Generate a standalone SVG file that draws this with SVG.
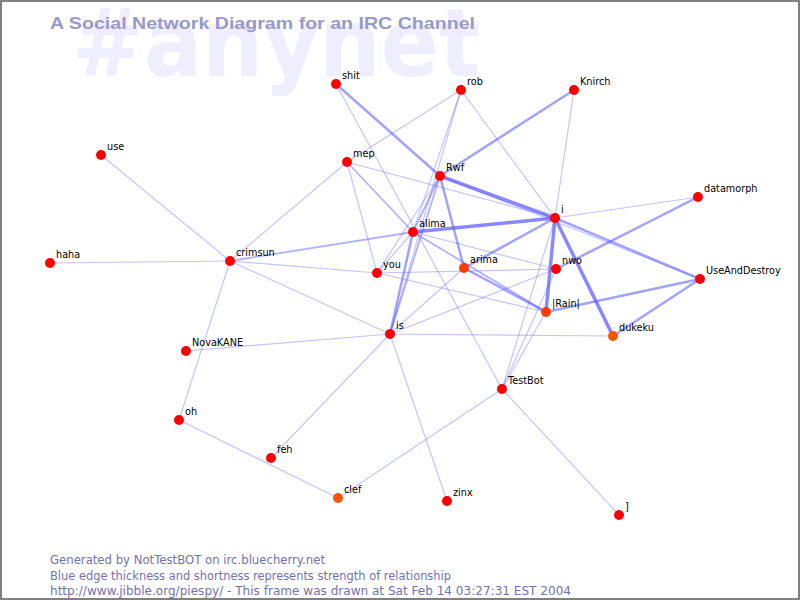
<svg xmlns="http://www.w3.org/2000/svg" width="800" height="600" viewBox="0 0 800 600">
<style>
.bg{font-family:"DejaVu Sans",sans-serif;font-weight:bold;font-size:95px;fill:#eeeeff}
.title{font-family:"Liberation Sans",sans-serif;font-weight:bold;font-size:17px;fill:#9999cc}
.foot{font-family:"DejaVu Sans",sans-serif;font-size:11.5px;fill:#7272b0}
.lbl{font-family:"DejaVu Sans",sans-serif;font-size:9.7px;fill:#000}
.n{fill:#ff0000}
.o{fill:#ff3c00}
.o2{fill:#ff5500}
#edges line{stroke:#5555ff;stroke-linecap:round}
#edges .t1{stroke-width:1.2;stroke-opacity:0.35}
#edges .t2{stroke-width:1.8;stroke-opacity:0.45}
#edges .t3{stroke-width:2.5;stroke-opacity:0.55}
#edges .t4{stroke-width:3.5;stroke-opacity:0.7}
</style>
<rect x="0" y="0" width="800" height="600" fill="#ffffff"/>
<text class="bg" x="72" y="76" textLength="408" lengthAdjust="spacingAndGlyphs">#anynet</text>
<text class="title" x="50" y="29" textLength="425" lengthAdjust="spacingAndGlyphs">A Social Network Diagram for an IRC Channel</text>
<g id="edges">
<line class="t1" x1="336" y1="84" x2="502" y2="389"/>
<line class="t1" x1="461" y1="90" x2="347" y2="162"/>
<line class="t1" x1="461" y1="90" x2="555" y2="218"/>
<line class="t1" x1="461" y1="90" x2="413" y2="232"/>
<line class="t1" x1="461" y1="90" x2="390" y2="334"/>
<line class="t1" x1="574" y1="90" x2="555" y2="218"/>
<line class="t1" x1="101" y1="155" x2="230" y2="261"/>
<line class="t1" x1="50" y1="263" x2="230" y2="261"/>
<line class="t1" x1="230" y1="261" x2="347" y2="162"/>
<line class="t1" x1="230" y1="261" x2="377" y2="273"/>
<line class="t1" x1="230" y1="261" x2="390" y2="334"/>
<line class="t1" x1="230" y1="261" x2="179" y2="420"/>
<line class="t1" x1="186" y1="351" x2="390" y2="334"/>
<line class="t1" x1="179" y1="420" x2="338" y2="498"/>
<line class="t1" x1="271" y1="458" x2="390" y2="334"/>
<line class="t1" x1="338" y1="498" x2="502" y2="389"/>
<line class="t1" x1="447" y1="501" x2="390" y2="334"/>
<line class="t1" x1="502" y1="389" x2="619" y2="515"/>
<line class="t1" x1="347" y1="162" x2="377" y2="273"/>
<line class="t1" x1="347" y1="162" x2="555" y2="218"/>
<line class="t1" x1="440" y1="176" x2="377" y2="273"/>
<line class="t1" x1="413" y1="232" x2="556" y2="269"/>
<line class="t1" x1="413" y1="232" x2="377" y2="273"/>
<line class="t1" x1="555" y1="218" x2="698" y2="197"/>
<line class="t1" x1="555" y1="218" x2="502" y2="389"/>
<line class="t1" x1="556" y1="269" x2="377" y2="273"/>
<line class="t1" x1="556" y1="269" x2="390" y2="334"/>
<line class="t1" x1="556" y1="269" x2="502" y2="389"/>
<line class="t1" x1="546" y1="312" x2="377" y2="273"/>
<line class="t1" x1="546" y1="312" x2="502" y2="389"/>
<line class="t1" x1="390" y1="334" x2="613" y2="336"/>
<line class="t1" x1="390" y1="334" x2="464" y2="268"/>
<line class="t1" x1="440" y1="176" x2="700" y2="279"/>
<line class="t2" x1="230" y1="261" x2="413" y2="232"/>
<line class="t2" x1="347" y1="162" x2="413" y2="232"/>
<line class="t2" x1="440" y1="176" x2="413" y2="232"/>
<line class="t2" x1="440" y1="176" x2="390" y2="334"/>
<line class="t2" x1="413" y1="232" x2="546" y2="312"/>
<line class="t3" x1="336" y1="84" x2="440" y2="176"/>
<line class="t3" x1="574" y1="90" x2="440" y2="176"/>
<line class="t3" x1="413" y1="232" x2="390" y2="334"/>
<line class="t3" x1="555" y1="218" x2="464" y2="268"/>
<line class="t3" x1="556" y1="269" x2="698" y2="197"/>
<line class="t3" x1="440" y1="176" x2="464" y2="268"/>
<line class="t3" x1="546" y1="312" x2="700" y2="279"/>
<line class="t3" x1="700" y1="279" x2="613" y2="336"/>
<line class="t3" x1="464" y1="268" x2="546" y2="312"/>
<line class="t3" x1="555" y1="218" x2="700" y2="279"/>
<line class="t4" x1="440" y1="176" x2="555" y2="218"/>
<line class="t4" x1="413" y1="232" x2="555" y2="218"/>
<line class="t4" x1="555" y1="218" x2="546" y2="312"/>
<line class="t4" x1="555" y1="218" x2="613" y2="336"/>
</g>
<g id="node-shit"><circle class="n" cx="336" cy="84" r="5"/><text class="lbl" x="342" y="79">shit</text></g>
<g id="node-rob"><circle class="n" cx="461" cy="90" r="5"/><text class="lbl" x="467" y="85">rob</text></g>
<g id="node-Knirch"><circle class="n" cx="574" cy="90" r="5"/><text class="lbl" x="580" y="85">Knirch</text></g>
<g id="node-use"><circle class="n" cx="101" cy="155" r="5"/><text class="lbl" x="107" y="150">use</text></g>
<g id="node-mep"><circle class="n" cx="347" cy="162" r="5"/><text class="lbl" x="353" y="157">mep</text></g>
<g id="node-Rwf"><circle class="n" cx="440" cy="176" r="5"/><text class="lbl" x="446" y="171">Rwf</text></g>
<g id="node-datamorph"><circle class="n" cx="698" cy="197" r="5"/><text class="lbl" x="704" y="192">datamorph</text></g>
<g id="node-i"><circle class="n" cx="555" cy="218" r="5"/><text class="lbl" x="561" y="213">i</text></g>
<g id="node-alima"><circle class="n" cx="413" cy="232" r="5"/><text class="lbl" x="419" y="227">alima</text></g>
<g id="node-haha"><circle class="n" cx="50" cy="263" r="5"/><text class="lbl" x="56" y="258">haha</text></g>
<g id="node-crimsun"><circle class="n" cx="230" cy="261" r="5"/><text class="lbl" x="236" y="256">crimsun</text></g>
<g id="node-you"><circle class="n" cx="377" cy="273" r="5"/><text class="lbl" x="383" y="268">you</text></g>
<g id="node-arima"><circle class="o" cx="464" cy="268" r="5"/><text class="lbl" x="470" y="263">arima</text></g>
<g id="node-nwo"><circle class="n" cx="556" cy="269" r="5"/><text class="lbl" x="562" y="264">nwo</text></g>
<g id="node-UseAndDestroy"><circle class="n" cx="700" cy="279" r="5"/><text class="lbl" x="706" y="274">UseAndDestroy</text></g>
<g id="node-Rain"><circle class="o" cx="546" cy="312" r="5"/><text class="lbl" x="552" y="307">|Rain|</text></g>
<g id="node-is"><circle class="n" cx="390" cy="334" r="5"/><text class="lbl" x="396" y="329">is</text></g>
<g id="node-dukeku"><circle class="o2" cx="613" cy="336" r="5"/><text class="lbl" x="619" y="331">dukeku</text></g>
<g id="node-NovaKANE"><circle class="n" cx="186" cy="351" r="5"/><text class="lbl" x="192" y="346">NovaKANE</text></g>
<g id="node-TestBot"><circle class="n" cx="502" cy="389" r="5"/><text class="lbl" x="508" y="384">TestBot</text></g>
<g id="node-oh"><circle class="n" cx="179" cy="420" r="5"/><text class="lbl" x="185" y="415">oh</text></g>
<g id="node-feh"><circle class="n" cx="271" cy="458" r="5"/><text class="lbl" x="277" y="453">feh</text></g>
<g id="node-clef"><circle class="o2" cx="338" cy="498" r="5"/><text class="lbl" x="344" y="493">clef</text></g>
<g id="node-zinx"><circle class="n" cx="447" cy="501" r="5"/><text class="lbl" x="453" y="496">zinx</text></g>
<g id="node-bracket"><circle class="n" cx="619" cy="515" r="5"/><text class="lbl" x="625" y="510">]</text></g>
<text class="foot" x="50" y="564" textLength="275" lengthAdjust="spacingAndGlyphs">Generated by NotTestBOT on irc.bluecherry.net</text>
<text class="foot" x="50" y="579.5" textLength="401" lengthAdjust="spacingAndGlyphs">Blue edge thickness and shortness represents strength of relationship</text>
<text class="foot" x="50" y="595" textLength="521" lengthAdjust="spacingAndGlyphs">http://www.jibble.org/piespy/ - This frame was drawn at Sat Feb 14 03:27:31 EST 2004</text>
<rect x="1" y="1" width="798" height="598" fill="none" stroke="#808080" stroke-width="2"/>
</svg>
